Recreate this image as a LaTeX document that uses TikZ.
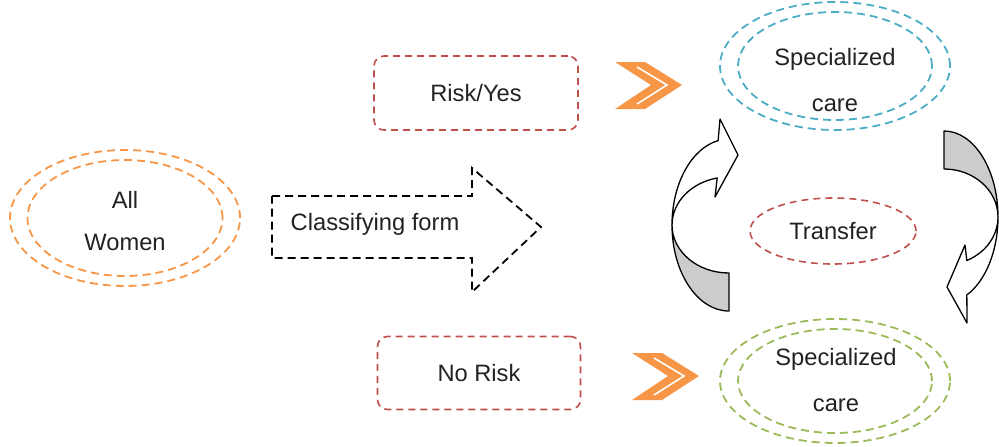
\documentclass[tikz,border=0pt]{standalone}
\usepackage{fontspec}
\setmainfont{Liberation Sans}
\usetikzlibrary{shapes.geometric}
\definecolor{ringorange}{HTML}{F79646}
\definecolor{ringblue}{HTML}{4BACC6}
\definecolor{ringgreen}{HTML}{9BBB59}
\definecolor{boxred}{HTML}{C0504D}
\definecolor{txt}{HTML}{222222}
\definecolor{curlgray}{HTML}{CCCCCC}
\tikzset{
  lbl/.style={text=txt, font=\fontsize{23.7}{28}\selectfont, inner sep=0pt},
  lbltwo/.style={lbl, align=center, font=\fontsize{23.7}{#1}\selectfont},
  ring/.style={ellipse, draw=#1, line width=1.8pt, dash pattern=on 8pt off 5pt, inner sep=0pt},
  dashbox/.style={draw=boxred, line width=1.6pt, rounded corners=10pt, dash pattern=on 7pt off 5pt},
  chev/.style={fill=ringorange, draw=none},
  chevline/.style={draw=white, line width=1.6pt},
  curl/.style={draw=black, line width=1.3pt, line join=round},
  formarrow/.style={draw=black, line width=1.8pt, dash pattern=on 8pt off 5pt, line join=miter},
}
\begin{document}
\begin{tikzpicture}[x=1pt,y=-1pt]
\useasboundingbox (0,0) rectangle (999,447);

% --- all women (double ring) ---
\node[ring=ringorange, minimum width=230pt, minimum height=136pt] (allOut) at (125,218) {};
\node[ring=ringorange, minimum width=195pt, minimum height=116pt] (allIn) at (125,218) {};
\node[lbltwo=42] (allTxt) at (125,221) {All\\Women};

% --- classifying form arrow ---
\coordinate (fA) at (272,196);
\coordinate (fB) at (472,196);
\coordinate (fC) at (472,168);
\coordinate (fTip) at (541,227);
\coordinate (fD) at (472,292);
\coordinate (fE) at (472,258);
\coordinate (fF) at (272,258);
\draw[formarrow] (fA) -- (fB) -- (fC) -- (fTip) -- (fD) -- (fE) -- (fF) -- cycle;
\node[lbl] (form) at (375,224) {Classifying form};

% --- outcome boxes ---
\node[dashbox, lbl, minimum width=204pt, minimum height=74pt] (risk) at (476,93) {Risk/Yes};
\node[dashbox, lbl, minimum width=203pt, minimum height=73pt] (norisk) at (479,373) {No Risk};

% --- orange chevrons ---
\fill[chev] (615,62) -- (645,62) -- (682,85) -- (645,109) -- (615,109) -- (651,85) -- cycle;
\draw[chevline] (637,67) -- (667,85) -- (637,104);
\begin{scope}[shift={(17,291)}]
  \fill[chev] (615,62) -- (645,62) -- (682,85) -- (645,109) -- (615,109) -- (651,85) -- cycle;
  \draw[chevline] (637,67) -- (667,85) -- (637,104);
\end{scope}

% --- specialized care rings ---
\node[ring=ringblue, minimum width=230pt, minimum height=128pt] (topOut) at (835,66) {};
\node[ring=ringblue, minimum width=194pt, minimum height=108pt] (topIn) at (835,66) {};
\node[lbltwo=46] (topTxt) at (835,80) {Specialized\\care};

\node[ring=ringgreen, minimum width=230pt, minimum height=124pt] (botOut) at (835,381) {};
\node[ring=ringgreen, minimum width=194pt, minimum height=104pt] (botIn) at (835,381) {};
\node[lbltwo=46] (botTxt) at (836,380) {Specialized\\care};

% --- transfer ---
\node[ring=boxred, line width=1.6pt, dash pattern=on 7pt off 5pt, minimum width=166pt, minimum height=66pt, lbl] (transfer) at (833,231) {Transfer};

% --- curved arrow, left (upwards) ---
\filldraw[curl, fill=curlgray] (672,225) arc[start angle=180, end angle=90, x radius=57, y radius=86]
  -- ++(0,-38) arc[start angle=90, end angle=180, x radius=57, y radius=48] -- cycle;
\filldraw[curl, fill=white] (672,225) arc[start angle=180, end angle=259, x radius=57, y radius=86]
  -- (720,119) -- (738,155) -- (715,197) -- (717.2,178)
  arc[start angle=258, end angle=180, x radius=57, y radius=48] -- cycle;

% --- curved arrow, right (downwards) ---
\filldraw[curl, fill=curlgray] (944,131) arc[start angle=-90, end angle=0, x radius=54, y radius=86]
  arc[start angle=0, end angle=-90, x radius=54, y radius=48] -- cycle;
\filldraw[curl, fill=white] (998,217) arc[start angle=0, end angle=65, x radius=54, y radius=86]
  -- (967,323) -- (947,287) -- (965,245) -- (966.8,260.5)
  arc[start angle=65, end angle=0, x radius=54, y radius=48] -- cycle;
\end{tikzpicture}
\end{document}
